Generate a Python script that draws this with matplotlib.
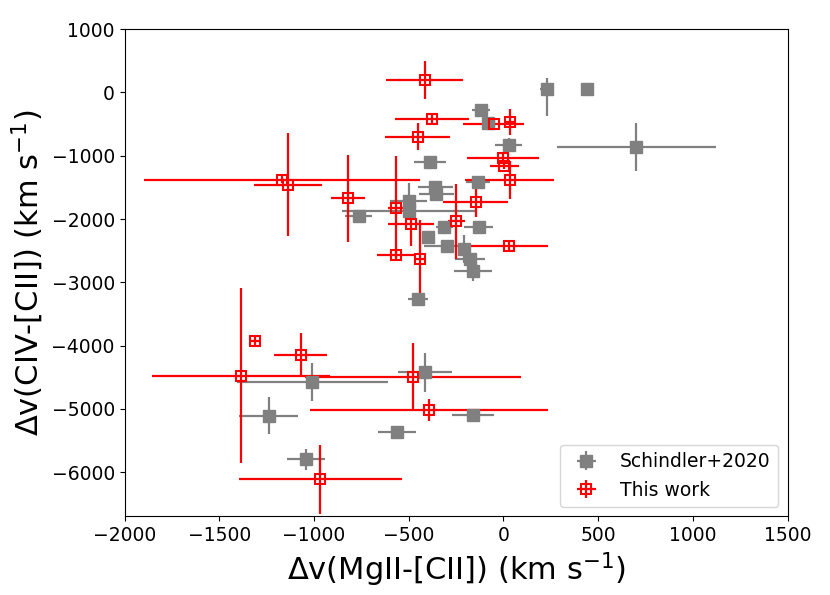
import numpy as np
import matplotlib
matplotlib.use("Agg")
import matplotlib.pyplot as plt

# Schindler+2020 sample
sch_dv_mg = [-386, -360, -354, -501, -496, -765, -312, -397, -298, -451,
             230, 443, -120, -80, 28, 702, -135, -131, -210, -177,
             -163, -1008, -412, -1240, -562, -163, -1041]
sch_dv_civ = [-1104, -1487, -1597, -1720, -1876, -1955, -2129, -2280, -2420, -3258,
              59, 59, -273, -490, -825, -867, -1419, -2129, -2470, -2638,
              -2815, -4573, -4425, -5109, -5362, -5098, -5797]
sch_xerr = [84, 92, 94, 100, 357, 70, 44, 0, 119, 55,
            37, 0, 47, 0, 70, 420, 62, 78, 0, 80,
            100, 399, 143, 154, 100, 111, 100]
sch_yerr_lo = [0, 0, 0, 290, 0, 0, 0, 0, 0, 0,
               436, 0, 0, 0, 100, 380, 0, 0, 220, 0,
               160, 300, 302, 294, 0, 0, 163]
sch_yerr_hi = [0, 0, 0, 290, 0, 0, 0, 0, 0, 0,
               168, 0, 0, 0, 100, 380, 0, 0, 220, 0,
               160, 300, 302, 294, 0, 0, 163]

# this work
tw_dv_mg = [-416, -377, -453, -1170, -1138, -819, -565, -568, -488, -439,
            33, -52, -2, 5, 33, -147, -249, 31,
            -1386, -1311, -1071, -480, -393, -967]
tw_dv_civ = [200, -415, -698, -1377, -1460, -1671, -1823, -2562, -2086, -2625,
             -460, -493, -1034, -1156, -1377, -1735, -2034, -2428,
             -4478, -3927, -4141, -4494, -5015, -6112]
tw_xerr = [205, 195, 173, 727, 178, 90, 45, 100, 120, 30,
           30, 159, 191, 76, 236, 170, 44, 205,
           469, 30, 140, 570, 627, 430]
tw_yerr_lo = [300, 60, 210, 60, 815, 690, 820, 60, 340, 605,
              205, 60, 60, 60, 300, 240, 590, 60,
              1383, 60, 342, 536, 173, 544]
tw_yerr_hi = [300, 60, 210, 60, 815, 690, 820, 60, 80, 605,
              205, 60, 60, 60, 300, 240, 590, 60,
              1383, 60, 342, 536, 173, 544]

fig = plt.figure(figsize=(8.3, 5.95), dpi=100)
ax = fig.add_axes([0.150, 0.132, 0.799, 0.819])

ax.errorbar(sch_dv_mg, sch_dv_civ, xerr=sch_xerr, yerr=[sch_yerr_lo, sch_yerr_hi],
            fmt='s', color='gray', ms=9, elinewidth=1.6, label='Schindler+2020')
ax.errorbar(tw_dv_mg, tw_dv_civ, xerr=tw_xerr, yerr=[tw_yerr_lo, tw_yerr_hi],
            fmt='s', color='red', mfc='none', mec='red', mew=1.5, ms=7,
            elinewidth=1.6, label='This work')

ax.set_xlim(-2000, 1500)
ax.set_ylim(-6700, 1000)
ax.set_yticks(np.arange(-6000, 1001, 1000))
ax.tick_params(labelsize=13.5)
ax.set_xlabel('Δv(MgII-[CII]) (km s$^{-1}$)', fontsize=22)
ax.set_ylabel('Δv(CIV-[CII]) (km s$^{-1}$)', fontsize=22)
ax.legend(loc='lower right', fontsize=13.5)

fig.savefig('out.png', dpi=100)
